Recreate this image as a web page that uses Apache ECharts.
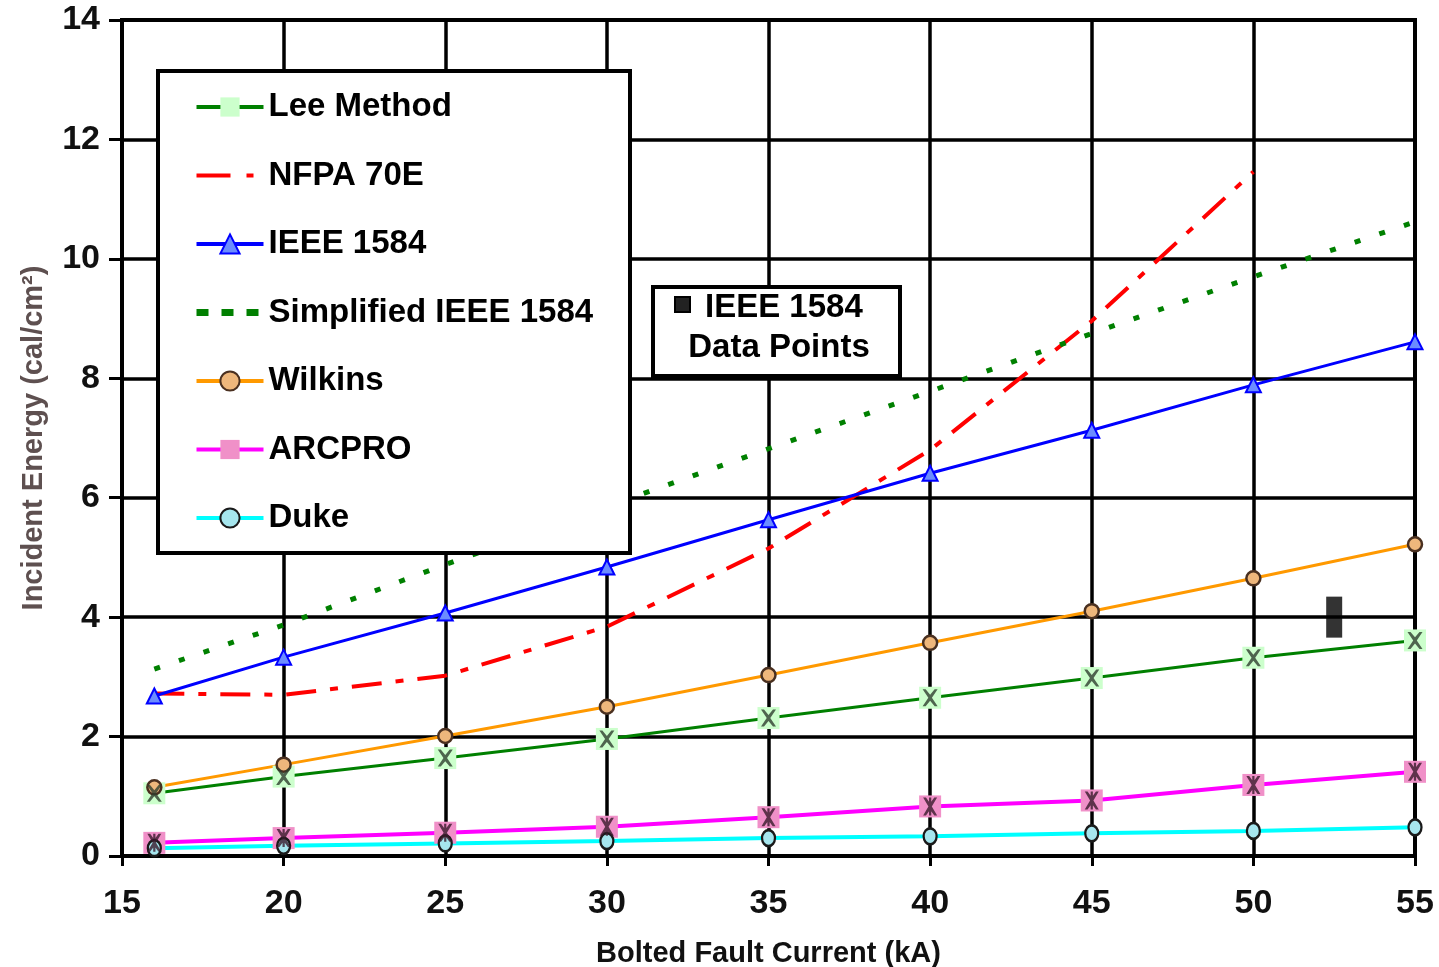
<!DOCTYPE html>
<html>
<head>
<meta charset="utf-8">
<script src="https://cdn.jsdelivr.net/npm/echarts@6/dist/echarts.min.js"></script>
<style>
html,body{margin:0;padding:0;background:#fff;}
#chart{width:1439px;height:967px;}
</style>
</head>
<body>
<div id="chart"></div>
<script>
// ---- data ----
const xValues = [16, 20, 25, 30, 35, 40, 45, 50, 55];
const leeMethod = [1.05, 1.33, 1.64, 1.96, 2.31, 2.65, 2.98, 3.32, 3.61];
const nfpa70e = [2.72, 2.70, 3.02, 3.84, 5.15, 6.80, 8.96, 11.46];
const ieee1584 = [2.68, 3.33, 4.07, 4.84, 5.63, 6.41, 7.13, 7.89, 8.61];
const simplifiedIeee = [3.13, 3.87, 4.88, 5.85, 6.82, 7.78, 8.75, 9.70, 10.62];
const wilkins = [1.15, 1.53, 2.01, 2.50, 3.03, 3.57, 4.10, 4.65, 5.22];
const arcpro = [0.22, 0.30, 0.39, 0.49, 0.65, 0.83, 0.93, 1.19, 1.41];
const duke = [0.13, 0.17, 0.21, 0.25, 0.30, 0.33, 0.38, 0.42, 0.48];
const dataPointsX = [52.5];
const dataPointsY = [4.0];
const seriesNames = ['Lee Method', 'NFPA 70E', 'IEEE 1584', 'Simplified IEEE 1584', 'Wilkins', 'ARCPRO', 'Duke'];
const xAxisTitle = 'Bolted Fault Current (kA)';
const yAxisTitle = 'Incident Energy (cal/cm²)';
const dataPointsLabel = ['IEEE 1584', 'Data Points'];

function pairs(xs, ys) { return ys.map((v, i) => [xs[i], v]); }

const X_PATH = 'path://M0,0 L2,0 L5,3.2 L8,0 L10,0 L6.2,5 L10,10 L8,10 L5,6.8 L2,10 L0,10 L3.8,5 Z';
const STAR_PATH = 'path://M0,0 L2,0 L5,3.2 L8,0 L10,0 L6.2,5 L10,10 L8,10 L5,6.8 L2,10 L0,10 L3.8,5 Z M4.2,0 L5.8,0 L5.8,10 L4.2,10 Z';
const FONT = '"Liberation Sans", Arial, sans-serif';
const TICK_FONT = '"Liberation Sans Narrow", "Arial Narrow", "Liberation Sans", Arial, sans-serif';

const chart = echarts.init(document.getElementById('chart'), null, {renderer: 'canvas'});

const option = {
  backgroundColor: '#fff',
  animation: false,
  grid: {
    left: 122, right: 24, top: 20, bottom: 111,
    outerBoundsMode: 'none', containLabel: false,
    show: true, borderColor: '#000', borderWidth: 4, backgroundColor: '#fff'
  },
  xAxis: {
    type: 'value', min: 15, max: 55, interval: 5,
    axisLine: {show: true, onZero: false, lineStyle: {color: '#000', width: 4}},
    axisTick: {show: true, length: 10, lineStyle: {color: '#000', width: 3}},
    axisLabel: {margin: 31, fontSize: 34, fontWeight: 'bold', fontFamily: TICK_FONT, color: '#111'},
    splitLine: {show: true, lineStyle: {color: '#000', width: 3.5}},
    name: xAxisTitle, nameLocation: 'middle', nameGap: 83,
    nameTextStyle: {fontSize: 29, fontWeight: 'bold', fontFamily: FONT, color: '#111'}
  },
  yAxis: {
    type: 'value', min: 0, max: 14, interval: 2,
    axisLine: {show: true, onZero: false, lineStyle: {color: '#000', width: 4}},
    axisTick: {show: true, length: 13, lineStyle: {color: '#000', width: 3}},
    axisLabel: {margin: 22, fontSize: 34, fontWeight: 'bold', fontFamily: TICK_FONT, color: '#111'},
    splitLine: {show: true, lineStyle: {color: '#000', width: 3.5}},
    name: yAxisTitle, nameLocation: 'middle', nameGap: 74, nameRotate: 90,
    nameTextStyle: {fontSize: 29, fontWeight: 'bold', fontFamily: FONT, color: '#5e5050'}
  },
  legend: {
    orient: 'vertical', left: 193, top: 90, padding: 0,
    itemWidth: 67, itemHeight: 24, itemGap: 34.5,
    selectedMode: false, z: 10,
    textStyle: {fontSize: 33, fontWeight: 'bold', fontFamily: FONT, color: '#000', lineHeight: 34, padding: [0, 0, 0, 0]},
    data: [
      {name: seriesNames[0], lineStyle: {width: 4}},
      {name: seriesNames[1], lineStyle: {type: [34, 16, 7, 16], width: 4}, itemStyle: {opacity: 0}},
      {name: seriesNames[2], lineStyle: {width: 4}},
      {name: seriesNames[3], lineStyle: {type: [12, 13], width: 7}, itemStyle: {opacity: 0}},
      {name: seriesNames[4], lineStyle: {width: 4}},
      {name: seriesNames[5], lineStyle: {width: 4}},
      {name: seriesNames[6], lineStyle: {width: 4}}
    ]
  },
  graphic: {
    elements: [
      {type: 'rect', z: 5, shape: {x: 158, y: 71, width: 472, height: 482},
        style: {fill: '#fff', stroke: '#000', lineWidth: 4}},
      {type: 'rect', z: 5, shape: {x: 653, y: 287, width: 247, height: 89},
        style: {fill: '#fff', stroke: '#000', lineWidth: 4}},
      {type: 'rect', z: 6, shape: {x: 675, y: 297, width: 15, height: 15},
        style: {fill: '#222', stroke: '#000', lineWidth: 2}},
      {type: 'text', z: 6, x: 705, y: 308,
        style: {text: dataPointsLabel[0], font: 'bold 33px ' + FONT, fill: '#000', textAlign: 'left', textVerticalAlign: 'middle'}},
      {type: 'text', z: 6, x: 779, y: 348,
        style: {text: dataPointsLabel[1], font: 'bold 33px ' + FONT, fill: '#000', textAlign: 'center', textVerticalAlign: 'middle'}}
    ]
  },
  series: [
    {
      name: seriesNames[0], type: 'line', data: pairs(xValues, leeMethod),
      symbol: 'rect', symbolSize: 22, z: 3,
      lineStyle: {color: '#008000', width: 3},
      itemStyle: {color: '#ccffcc', borderWidth: 0}
    },
    {
      name: seriesNames[1], type: 'line', data: pairs(xValues, nfpa70e),
      symbol: 'none', z: 2,
      lineStyle: {color: '#ff0000', width: 4, type: [30, 14, 8, 14]},
      itemStyle: {color: '#ff0000'}
    },
    {
      name: seriesNames[2], type: 'line', data: pairs(xValues, ieee1584),
      symbol: 'triangle', symbolSize: 15, z: 3,
      lineStyle: {color: '#0000ff', width: 3},
      itemStyle: {color: '#6b8cff', borderColor: '#0000ff', borderWidth: 2}
    },
    {
      name: seriesNames[3], type: 'line', data: pairs(xValues, simplifiedIeee),
      symbol: 'none', z: 2,
      lineStyle: {color: '#008000', width: 5, type: [6, 20]},
      itemStyle: {color: '#008000'}
    },
    {
      name: seriesNames[4], type: 'line', data: pairs(xValues, wilkins),
      symbol: 'circle', symbolSize: 14, z: 3,
      lineStyle: {color: '#ff9900', width: 3},
      itemStyle: {color: '#eeb77c', borderColor: '#4a3020', borderWidth: 2.5}
    },
    {
      name: seriesNames[5], type: 'line', data: pairs(xValues, arcpro),
      symbol: 'rect', symbolSize: 22, z: 3,
      lineStyle: {color: '#ff00ff', width: 4},
      itemStyle: {color: '#f090c8', borderWidth: 0}
    },
    {
      name: seriesNames[6], type: 'line', data: pairs(xValues, duke),
      symbol: 'circle', symbolSize: [13, 16], z: 3,
      lineStyle: {color: '#00ffff', width: 4},
      itemStyle: {color: '#a6e6ee', borderColor: '#1a1a1a', borderWidth: 2.5}
    },
    {
      name: 'Lee Method marks', type: 'scatter', data: pairs(xValues, leeMethod),
      symbol: X_PATH, symbolSize: [15, 17], silent: true, z: 4,
      itemStyle: {color: '#2e3e2e'}
    },
    {
      name: 'ARCPRO marks', type: 'scatter', data: pairs(xValues, arcpro),
      symbol: STAR_PATH, symbolSize: [14, 18], silent: true, z: 4,
      itemStyle: {color: '#3a1a2c'}
    },
    {
      name: 'IEEE 1584 Data Points', type: 'scatter', data: pairs(dataPointsX, dataPointsY),
      symbol: 'rect', symbolSize: [16, 41], z: 4,
      itemStyle: {color: '#000'}
    }
  ]
};
chart.setOption(option);
</script>
</body>
</html>
